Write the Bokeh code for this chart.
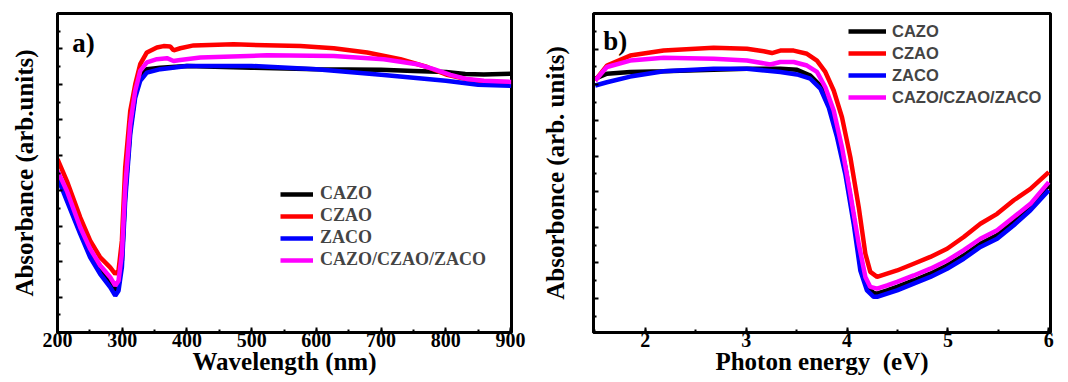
from bokeh.plotting import figure
from bokeh.models import (Range1d, SingleIntervalTicker, FixedTicker, Legend, LegendItem, Label,
                          CustomJSTickFormatter)
from bokeh.layouts import row
from bokeh.embed import file_html
from bokeh.resources import INLINE

# ---------------- data: panel a (wavelength, nm) ----------------
labels = ["CAZO", "CZAO", "ZACO", "CAZO/CZAO/ZACO"]
colors = ["#000000", "#FF0000", "#0000FF", "#FF00FF"]

a_cazo_x = [200, 214.4, 235.1, 250.5, 266.0, 281.4, 289.2, 294.3, 299.5, 304.6, 312.4, 320.1, 327.8, 338.1,
            358.8, 400.0, 500.0, 600.0, 700.0, 750.0, 800.0, 830.0, 858.8, 901]
a_cazo_y = [4.47, 3.86, 2.87, 2.24, 1.77, 1.42, 1.18, 1.32, 2.03, 3.91, 5.74, 6.72, 7.24, 7.43,
            7.47, 7.52, 7.47, 7.43, 7.41, 7.38, 7.35, 7.29, 7.28, 7.30]

a_czao_x = [200, 214.4, 235.1, 250.5, 266.0, 281.4, 289.2, 294.3, 299.5, 304.6, 312.4, 320.1, 327.8, 338.1,
            353.6, 363.9, 374.2, 379.4, 389.7, 410.3, 472.2, 575.3, 626.8, 678.4, 729.9, 771.1, 802.1,
            833.0, 858.8, 901]
a_czao_y = [4.89, 4.28, 3.25, 2.59, 2.12, 1.84, 1.65, 1.75, 2.59, 4.66, 6.25, 7.00, 7.57, 7.90,
            8.04, 8.08, 8.07, 7.96, 8.02, 8.10, 8.13, 8.08, 8.02, 7.90, 7.71, 7.49, 7.27,
            7.14, 7.08, 7.05]

a_zaco_x = [200, 214.4, 235.1, 250.5, 266.0, 281.4, 289.2, 294.3, 299.5, 304.6, 312.4, 320.1, 327.8, 338.1,
            358.8, 400.0, 500.0, 600.0, 700.0, 800.0, 850.0, 901]
a_zaco_y = [4.38, 3.72, 2.78, 2.12, 1.65, 1.28, 1.04, 1.18, 1.84, 3.72, 5.60, 6.63, 7.10, 7.33,
            7.43, 7.52, 7.52, 7.43, 7.27, 7.10, 6.99, 6.96]

a_mix_x = [200, 214.4, 235.1, 250.5, 266.0, 281.4, 289.2, 294.3, 299.5, 304.6, 312.4, 320.1, 327.8, 338.1,
           353.6, 369.1, 379.4, 389.7, 420.6, 523.7, 626.8, 704.1, 755.7, 781.4, 807.2, 833.0, 858.8, 901]
a_mix_y = [4.56, 4.00, 2.97, 2.36, 1.89, 1.56, 1.32, 1.46, 2.22, 4.09, 5.88, 6.82, 7.38, 7.62,
           7.71, 7.74, 7.66, 7.69, 7.76, 7.82, 7.80, 7.71, 7.57, 7.43, 7.27, 7.15, 7.10, 7.07]

# ---------------- data: panel b (photon energy, eV) ----------------
b_cazo_x = [1.504, 1.620, 1.851, 2.182, 2.678, 3.008, 3.339, 3.504, 3.636, 3.736, 3.818, 3.901, 3.983,
            4.066, 4.132, 4.198, 4.264, 4.298, 4.397, 4.496, 4.661, 4.826, 4.992, 5.157, 5.322, 5.488,
            5.653, 5.818, 6.0]
b_cazo_y = [7.17, 7.31, 7.36, 7.38, 7.42, 7.45, 7.45, 7.42, 7.26, 6.98, 6.47, 5.72, 4.69,
            3.29, 1.98, 1.33, 1.16, 1.14, 1.23, 1.33, 1.51, 1.70, 1.93, 2.21, 2.54, 2.78,
            3.15, 3.57, 4.18]

b_czao_x = [1.504, 1.620, 1.851, 2.182, 2.678, 3.008, 3.174, 3.256, 3.339, 3.471, 3.603, 3.702, 3.785,
            3.868, 3.950, 4.033, 4.116, 4.182, 4.231, 4.298, 4.397, 4.496, 4.661, 4.826, 4.992, 5.157,
            5.322, 5.488, 5.653, 5.818, 6.0]
b_czao_y = [7.12, 7.54, 7.82, 7.96, 8.04, 8.01, 7.94, 7.89, 7.96, 7.96, 7.87, 7.68, 7.36,
            6.84, 6.09, 4.97, 3.57, 2.26, 1.75, 1.61, 1.70, 1.79, 1.98, 2.17, 2.40, 2.73,
            3.10, 3.38, 3.76, 4.08, 4.55]

b_zaco_x = b_cazo_x
b_zaco_y = [6.98, 7.07, 7.23, 7.38, 7.45, 7.45, 7.36, 7.29, 7.17, 6.89, 6.37, 5.53, 4.50,
            3.10, 1.79, 1.23, 1.05, 1.05, 1.14, 1.23, 1.42, 1.61, 1.84, 2.12, 2.45, 2.68,
            3.06, 3.48, 4.04]

b_mix_x = [1.504, 1.620, 1.851, 2.182, 2.678, 3.008, 3.240, 3.339, 3.471, 3.603, 3.702, 3.785, 3.868,
           3.950, 4.033, 4.116, 4.182, 4.231, 4.298, 4.397, 4.496, 4.661, 4.826, 4.992, 5.157, 5.322,
           5.488, 5.653, 5.818, 6.0]
b_mix_y = [7.12, 7.50, 7.68, 7.76, 7.73, 7.68, 7.57, 7.64, 7.64, 7.54, 7.36, 6.93, 6.28,
           5.25, 3.94, 2.54, 1.61, 1.33, 1.28, 1.37, 1.47, 1.65, 1.84, 2.07, 2.36, 2.68,
           2.92, 3.29, 3.66, 4.27]

y_major = [1, 2, 3, 4, 5, 6, 7, 8]
y_minor = [0.5, 1.5, 2.5, 3.5, 4.5, 5.5, 6.5, 7.5, 8.5]

SERIF = "Liberation Serif"
SANS = "Liberation Sans"


def base_fig(width, xr, yr, border_left, border_right, border_top):
    p = figure(width=width, height=382, output_backend="svg", toolbar_location=None,
               x_range=Range1d(*xr), y_range=Range1d(*yr),
               min_border_left=border_left, min_border_right=border_right,
               min_border_top=border_top, min_border_bottom=50)
    p.grid.visible = False
    p.outline_line_color = "black"
    p.outline_line_width = 3
    p.background_fill_color = "white"
    p.border_fill_color = "white"
    for ax in (p.xaxis[0], p.yaxis[0]):
        ax.axis_line_width = 3
        ax.axis_line_color = "black"
        ax.major_tick_in = 5
        ax.major_tick_out = 0
        ax.minor_tick_in = 3
        ax.minor_tick_out = 0
        ax.major_tick_line_width = 2
        ax.minor_tick_line_width = 2
        ax.major_tick_line_color = "black"
        ax.minor_tick_line_color = "black"
        ax.axis_label_text_font = SERIF
        ax.axis_label_text_font_style = "bold"
        ax.axis_label_text_font_size = "25px"
        ax.axis_label_text_color = "black"
        ax.major_label_text_font = SERIF
        ax.major_label_text_font_style = "bold"
        ax.major_label_text_font_size = "20px"
        ax.major_label_text_color = "black"
    p.xaxis.major_label_standoff = 0
    p.xaxis.axis_label_standoff = -2
    p.yaxis.ticker = FixedTicker(ticks=y_major, minor_ticks=y_minor)
    p.yaxis.formatter = CustomJSTickFormatter(code="return '';")
    p.yaxis.major_label_standoff = 0
    return p


def add_lines(p, xs, ys):
    rs = []
    for x, y, c in zip(xs, ys, colors):
        rs.append(p.line(x, y, line_color=c, line_width=4.5))
    return rs


# ---------------- panel a ----------------
pa = base_fig(538, (200, 901.5), (0, 9.0), 57, 27, 12)
pa.xaxis.ticker = SingleIntervalTicker(interval=100, num_minor_ticks=2)
pa.xaxis.axis_label = "Wavelength (nm)"
pa.yaxis.axis_label = "Absorbance (arb.units)"
pa.yaxis.axis_label_standoff = 20
ra = add_lines(pa, [a_cazo_x, a_czao_x, a_zaco_x, a_mix_x], [a_cazo_y, a_czao_y, a_zaco_y, a_mix_y])
leg_a = Legend(items=[LegendItem(label=l, renderers=[r]) for l, r in zip(labels, ra)],
               location=(223, 62), padding=0, margin=0, spacing=1,
               glyph_width=33, glyph_height=20, label_height=20, label_standoff=7,
               label_text_font=SERIF, label_text_font_style="bold", label_text_font_size="18px",
               border_line_color=None, background_fill_alpha=0)
pa.add_layout(leg_a)
pa.add_layout(Label(x=222.7, y=8.18, text="a)", text_font=SERIF, text_font_style="bold",
                    text_font_size="27px", text_baseline="alphabetic", text_color="black"))

# ---------------- panel b ----------------
pb = base_fig(530, (1.487, 6.017), (0.05, 9.0), 55, 18, 13)
pb.xaxis.ticker = SingleIntervalTicker(interval=1, num_minor_ticks=2)
pb.xaxis.axis_label = "Photon energy\u00a0 (eV)"
pb.yaxis.axis_label = "Absorbonce (arb. units)"
pb.yaxis.axis_label_standoff = 25
rb = add_lines(pb, [b_cazo_x, b_czao_x, b_zaco_x, b_mix_x], [b_cazo_y, b_czao_y, b_zaco_y, b_mix_y])
leg_b = Legend(items=[LegendItem(label=l, renderers=[r]) for l, r in zip(labels, rb)],
               location=(255, 225), padding=0, margin=0, spacing=2,
               glyph_width=38, glyph_height=20, label_height=20, label_standoff=6,
               label_text_font=SANS, label_text_font_style="bold", label_text_font_size="16.5px",
               border_line_color=None, background_fill_alpha=0)
pb.add_layout(leg_b)
pb.add_layout(Label(x=1.583, y=8.24, text="b)", text_font=SERIF, text_font_style="bold",
                    text_font_size="27px", text_baseline="alphabetic", text_color="black"))

layout = row(pa, pb)
open("out.html", "w").write(file_html(layout, INLINE))
